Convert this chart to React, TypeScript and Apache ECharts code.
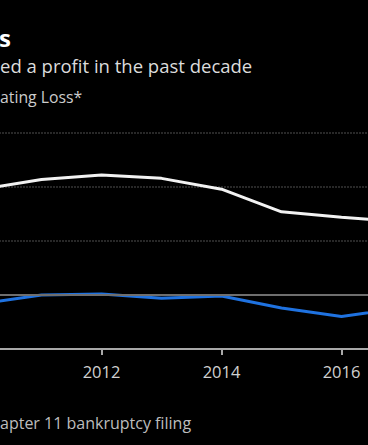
import React, { useEffect, useRef } from "react";
import * as echarts from "echarts";

const years = [2010, 2011, 2012, 2013, 2014, 2015, 2016, 2017];
const revenue = [9.8, 10.7, 11.1, 10.8, 9.8, 7.7, 7.2, 6.8];
const operatingLoss = [-0.8, 0.0, 0.1, -0.3, -0.1, -1.2, -2.0, -1.2];
const yTicks = { min: -5, max: 15, interval: 5 };

const titleFrag = "s";
const subtitleFrag = "ed a profit in the past decade";
const legendFrag = "ating Loss*";
const footnoteFrag = "apter 11 bankruptcy filing";

const FONT = '"Open Sans", "Noto Sans", sans-serif';
const OFFSET = 60;

export default function App() {
  const ref = useRef<HTMLDivElement>(null);
  useEffect(() => {
    if (!ref.current) return;
    const chart = echarts.init(ref.current, undefined, { renderer: "svg" });
    chart.setOption({
      animation: false,
      backgroundColor: "#000",
      grid: { left: OFFSET - 18.5, right: 38.5, top: 133, bottom: 96, containLabel: false },
      xAxis: {
        type: "value",
        min: 2010,
        max: 2017,
        interval: 2,
        axisLine: { show: true, onZero: false, lineStyle: { color: "#a8a8a8", width: 2 } },
        axisTick: { show: true, length: 6, lineStyle: { color: "#a8a8a8", width: 2 } },
        axisLabel: {
          color: "#d0d0d0",
          fontSize: 16.5,
          fontFamily: FONT,
          margin: 14,
          formatter: (v: number) => (v === 2010 || v % 2 !== 0 ? "" : String(v)),
        },
        splitLine: { show: false },
      },
      yAxis: {
        type: "value",
        min: yTicks.min,
        max: yTicks.max,
        interval: yTicks.interval,
        axisLabel: { show: false },
        axisLine: { show: false },
        axisTick: { show: false },
        splitLine: { show: true, lineStyle: { color: "#6a6a6a", type: [1, 2], width: 1.5 } },
      },
      series: [
        {
          type: "line",
          data: years.map((y, i) => [y, revenue[i]]),
          symbol: "none",
          lineStyle: { color: "#f2f2f2", width: 3 },
          markLine: {
            silent: true,
            symbol: "none",
            label: { show: false },
            lineStyle: { color: "#6e6e6e", type: "solid", width: 2 },
            data: [{ yAxis: 0 }],
          },
        },
        {
          type: "line",
          data: years.map((y, i) => [y, operatingLoss[i]]),
          symbol: "none",
          lineStyle: { color: "#1f72e0", width: 3 },
        },
      ],
      graphic: [
        {
          type: "text",
          x: OFFSET - 1,
          y: 37,
          style: { text: titleFrag, fill: "#ffffff", font: `bold 24px ${FONT}`, verticalAlign: "middle" },
        },
        {
          type: "text",
          x: OFFSET,
          y: 65,
          style: { text: subtitleFrag, fill: "#dcdcdc", font: `18.5px ${FONT}`, verticalAlign: "middle" },
        },
        {
          type: "text",
          x: OFFSET,
          y: 97,
          style: { text: legendFrag, fill: "#cccccc", font: `15.8px ${FONT}`, verticalAlign: "middle" },
        },
        {
          type: "text",
          x: OFFSET,
          y: 423,
          style: { text: footnoteFrag, fill: "#bdbdbd", font: `16px ${FONT}`, verticalAlign: "middle" },
        },
      ],
    });
    return () => chart.dispose();
  }, []);
  return (
    <div
      style={{
        position: "absolute",
        left: 0,
        top: 0,
        width: 368,
        height: 445,
        overflow: "hidden",
        background: "#000",
      }}
    >
      <div
        ref={ref}
        style={{ position: "absolute", left: -OFFSET, top: 0, width: 500, height: 445 }}
      />
    </div>
  );
}
